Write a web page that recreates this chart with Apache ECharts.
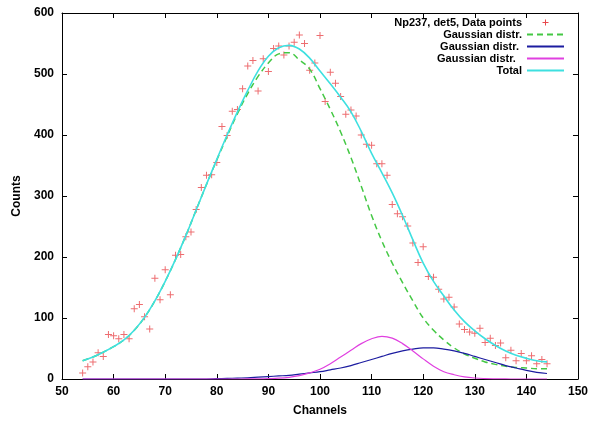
<!DOCTYPE html>
<html>
<head>
<meta charset="utf-8">
<script src="https://cdn.jsdelivr.net/npm/echarts@6/dist/echarts.min.js"></script>
<style>
html,body{margin:0;padding:0;background:#fff;}
#chart{width:591px;height:422px;}
</style>
</head>
<body>
<div id="chart"></div>
<script>
// Measured data points (channel, counts)
var pointChannels = [54,55,56,57,58,59,60,61,62,63,64,65,66,67,68,69,70,71,72,73,74,75,76,77,78,79,80,81,82,83,84,85,86,87,88,89,90,91,92,93,94,95,96,97,98,99,100,101,102,103,104,105,106,107,108,109,110,111,112,113,114,115,116,117,118,119,120,121,122,123,124,125,126,127,128,129,130,131,132,133,134,135,136,137,138,139,140,141,142,143,144];
var pointCounts = [10,20,28,43,37,73,71,66,73,66,115,122,102,82,165,130,179,138,203,204,233,241,278,314,334,335,355,414,399,439,442,476,513,522,472,525,504,542,546,531,546,552,564,550,506,518,563,455,503,485,463,434,441,431,400,385,383,353,353,334,286,271,266,251,223,191,217,168,167,147,131,134,118,90,81,77,75,83,60,67,55,59,35,47,30,42,30,38,25,32,25];

// Curves at every second channel
var curveChannels = [54,56,58,60,62,64,66,68,70,72,74,76,78,80,82,84,86,88,90,92,94,96,98,100,102,104,106,108,110,112,114,116,118,120,122,124,126,128,130,132,134,136,138,140,142,144];
var gauss1 = [30,36,44,53,64,80,101,128,160,196,235,277,319,359,398,435,468,496,518,533,535,523,508,476,442,405,363,316,268,226,190,158,128,100,80,64,51,41,34,28,24,21,19,18,17,17];
var gauss2 = [0,0,0,0,0,0,0,0,0,0,0,0,0,0.5,1,1.5,2,3,4,5,6,8,10,12,15,18,22,27,32,37,42,46,49,51,51,49,46,42,37,32,27,22,18,14,11,9];
var gauss3 = [0,0,0,0,0,0,0,0,0,0,0,0,0,0,0,0,0.1,0.2,0.6,1.3,2.8,5.5,10,16,25,36,47,58,66,70,67,58,46,33,21,12,7,3.5,1.6,0.7,0.3,0.1,0,0,0,0];
var total = [30,36,44,53,64,80,101,128,160,196,235,277,319,360,400,438,473,505,529,543,547,541,526,505,484,462,438,406,370,338,305,268,228,190,160,136,113,94,79,66,55,46,39,34,30,28];

var xTicks = {min: 50, max: 150, interval: 10};
var yTicks = {min: 0, max: 600, interval: 100};

var names = ['Np237, det5, Data points', 'Gaussian distr.', 'Gaussian distr. ', 'Gaussian distr.  ', 'Total'];

function pairs(xs, ys) {
  var out = [];
  for (var i = 0; i < xs.length; i++) out.push([xs[i], ys[i]]);
  return out;
}

var FONT = 'Liberation Sans, Arial, Helvetica, sans-serif';
var RED = '#e8484c';
var plusSymbol = 'path://M3,0 H4 V3 H7 V4 H4 V7 H3 V4 H0 V3 H3 Z';
var plusLegend = 'path://M0,0 M37,11 M18,2.5 H19 V5 H21.5 V6 H19 V8.5 H18 V6 H15.5 V5 H18 Z';

function axisCommon(extra) {
  var base = {
    type: 'value',
    axisLine: {show: true, onZero: false, lineStyle: {color: '#000', width: 1}},
    axisTick: {show: true, inside: true, length: 5, lineStyle: {color: '#000', width: 1}},
    splitLine: {show: false},
    axisLabel: {show: true, color: '#000', fontSize: 12, fontWeight: 'bold', fontFamily: FONT}
  };
  for (var k in extra) base[k] = extra[k];
  return base;
}

var chart = echarts.init(document.getElementById('chart'), null, {renderer: 'canvas'});
chart.setOption({
  animation: false,
  backgroundColor: '#fff',
  grid: {left: 62, right: 11, top: 13, bottom: 39, containLabel: false},
  legend: {
    orient: 'vertical',
    right: 26,
    top: 17,
    padding: 0,
    align: 'right',
    itemWidth: 37,
    itemHeight: 11,
    itemGap: 1,
    selectedMode: false,
    itemStyle: {opacity: 0},
    textStyle: {color: '#000', fontSize: 11, fontWeight: 'bold', fontFamily: FONT},
    data: [
      {name: names[0], icon: plusLegend, itemStyle: {opacity: 1, color: RED}},
      {name: names[1]},
      {name: names[2]},
      {name: names[3]},
      {name: names[4]}
    ]
  },
  xAxis: [
    axisCommon({position: 'bottom', min: xTicks.min, max: xTicks.max, interval: xTicks.interval,
      name: 'Channels', nameLocation: 'middle', nameGap: 26,
      nameTextStyle: {color: '#000', fontSize: 12, fontWeight: 'bold', fontFamily: FONT},
      axisLabel: {show: true, color: '#000', fontSize: 12, fontWeight: 'bold', fontFamily: FONT, margin: 7}}),
    axisCommon({position: 'top', min: xTicks.min, max: xTicks.max, interval: xTicks.interval,
      axisLabel: {show: false}})
  ],
  yAxis: [
    axisCommon({position: 'left', min: yTicks.min, max: yTicks.max, interval: yTicks.interval,
      name: 'Counts', nameLocation: 'middle', nameGap: 36,
      nameTextStyle: {color: '#000', fontSize: 12, fontWeight: 'bold', fontFamily: FONT},
      axisLabel: {show: true, color: '#000', fontSize: 12, fontWeight: 'bold', fontFamily: FONT, margin: 8}}),
    axisCommon({position: 'right', min: yTicks.min, max: yTicks.max, interval: yTicks.interval,
      axisLabel: {show: false}})
  ],
  series: [
    {
      name: names[0], type: 'scatter', xAxisIndex: 0, yAxisIndex: 0,
      symbol: plusSymbol, symbolSize: 7,
      itemStyle: {color: RED},
      data: pairs(pointChannels, pointCounts), z: 2
    },
    {
      name: names[1], type: 'line', symbol: 'none', smooth: 0.4,
      lineStyle: {color: '#44c844', width: 1.5, type: [6, 4]},
      itemStyle: {color: '#44c844'},
      data: pairs(curveChannels, gauss1), z: 3
    },
    {
      name: names[2], type: 'line', symbol: 'none', smooth: 0.4,
      lineStyle: {color: '#1c1ca0', width: 1.2},
      itemStyle: {color: '#1c1ca0'},
      data: pairs(curveChannels, gauss2), z: 3
    },
    {
      name: names[3], type: 'line', symbol: 'none', smooth: 0.4,
      lineStyle: {color: '#e040e0', width: 1.2},
      itemStyle: {color: '#e040e0'},
      data: pairs(curveChannels, gauss3), z: 3
    },
    {
      name: names[4], type: 'line', symbol: 'none', smooth: 0.4,
      lineStyle: {color: '#3ee0e0', width: 1.6},
      itemStyle: {color: '#3ee0e0'},
      data: pairs(curveChannels, total), z: 4
    }
  ]
});
</script>
</body>
</html>
